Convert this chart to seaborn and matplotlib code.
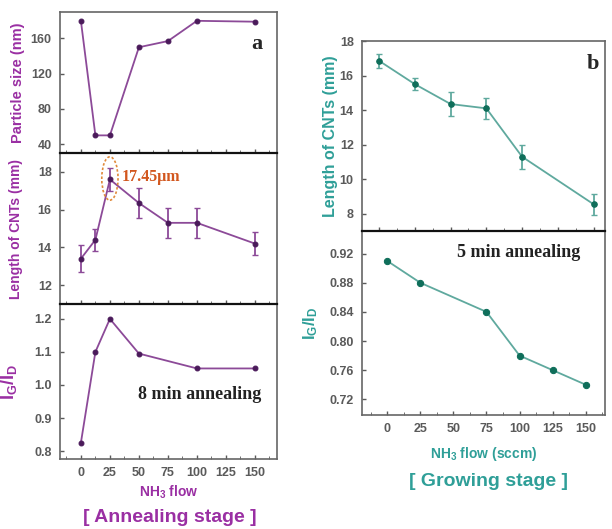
import numpy as np
import pandas as pd
import matplotlib
matplotlib.use("Agg")
import matplotlib.pyplot as plt
from matplotlib.patches import Ellipse
from matplotlib.ticker import MultipleLocator, FormatStrFormatter
import seaborn as sns

# --- data ---
# (a) annealing stage
flow_a_size = [0, 12.5, 25, 50, 75, 100, 150]
size_nm = [180, 50, 50, 150, 157, 180, 179]

flow_a_len = [0, 12.5, 25, 50, 75, 100, 150]
len_a = [13.4, 14.4, 17.6, 16.35, 15.3, 15.3, 14.2]
len_a_err = [0.7, 0.6, 0.6, 0.8, 0.8, 0.8, 0.6]

flow_a_ratio = [0, 12.5, 25, 50, 100, 150]
ratio_a = [0.825, 1.10, 1.20, 1.095, 1.05, 1.05]

# (b) growing stage
flow_b_len = [0, 25, 50, 75, 100, 150]
len_b = [16.85, 15.5, 14.35, 14.1, 11.3, 8.55]
len_b_err = [0.4, 0.35, 0.7, 0.6, 0.7, 0.6]

flow_b_ratio = [0, 25, 75, 100, 125, 150]
ratio_b = [0.91, 0.88, 0.84, 0.78, 0.76, 0.74]

flow_ticks = [0, 25, 50, 75, 100, 125, 150]

# colours
PURPLE = "#9a2fa3"
PURPLE_LINE = "#8c4a98"
PURPLE_MARK = "#4a1a5a"
TEAL = "#2f9f98"
TEAL_LINE = "#5fa99e"
TEAL_MARK = "#0f6e5a"
TICK_GREY = "#5a5a5a"
SERIF = ["Liberation Serif", "DejaVu Serif"]

sns.set_style("ticks")
plt.rcParams['font.family'] = ['Liberation Sans', 'DejaVu Sans']
plt.rcParams['mathtext.fontset'] = 'custom'
plt.rcParams['mathtext.rm'] = 'Liberation Sans:bold'
plt.rcParams['mathtext.it'] = 'Liberation Sans:bold'
plt.rcParams['mathtext.bf'] = 'Liberation Sans:bold'

W, H = 612, 529
fig = plt.figure(figsize=(W / 100, H / 100), dpi=100)


def add_ax(x0, y0, x1, y1):
    # pixel box -> figure fraction
    return fig.add_axes([x0 / W, 1 - y1 / H, (x1 - x0) / W, (y1 - y0) / H])


def style_ax(ax, show_x=False):
    for s in ax.spines.values():
        s.set_color("#666666")
        s.set_linewidth(1.2)
    ax.tick_params(axis="both", direction="in", length=3, width=1,
                   colors=TICK_GREY, labelsize=9, pad=6)
    ax.tick_params(axis="both", which="minor", direction="in", length=2, colors=TICK_GREY)
    for lbl in ax.get_yticklabels() + ax.get_xticklabels():
        lbl.set_fontweight("bold")
    if not show_x:
        ax.tick_params(axis="x", labelbottom=False)
    ax.set_xlabel("")


def draw_series(ax, x, y, line_c, mark_c, err=None, ms=4):
    df = pd.DataFrame({"flow": x, "val": y})
    if err is not None:
        ax.errorbar(x, y, yerr=err, fmt="none", ecolor=line_c, elinewidth=1.3,
                    capsize=2, capthick=1, zorder=2)
    sns.lineplot(data=df, x="flow", y="val", ax=ax, color=line_c, lw=1.3,
                 marker="o", markersize=ms, markerfacecolor=mark_c,
                 markeredgecolor=mark_c, zorder=3)


# ---------------- panel (a) ----------------
ax1 = add_ax(60, 12, 277, 153)
ax2 = add_ax(60, 153, 277, 304)
ax3 = add_ax(60, 304, 277, 459)

draw_series(ax1, flow_a_size, size_nm, PURPLE_LINE, PURPLE_MARK, ms=3.5)
ax1.set_ylim(30, 190)
ax1.set_yticks([40, 80, 120, 160])
ax1.set_ylabel("Particle size (nm)", color=PURPLE, fontsize=10.5, fontweight="bold")

draw_series(ax2, flow_a_len, len_a, PURPLE_LINE, PURPLE_MARK, err=len_a_err, ms=3.5)
ax2.set_ylim(11, 19)
ax2.set_yticks([12, 14, 16, 18])
ax2.set_ylabel("Length of CNTs (mm)", color=PURPLE, fontsize=10, fontweight="bold")
ax2.add_patch(Ellipse((25, 17.65), 14, 2.3, fill=False, edgecolor="#e08a3a",
                      linestyle=(0, (1.5, 1.2)), lw=1.2, zorder=4))
ax2.text(35, 17.75, "17.45μm", color="#d2571e", fontsize=11.5, fontweight="bold",
         family=SERIF, va="center", ha="left")

draw_series(ax3, flow_a_ratio, ratio_a, PURPLE_LINE, PURPLE_MARK, ms=3.5)
ax3.set_ylim(0.776, 1.245)
ax3.set_yticks([0.8, 0.9, 1.0, 1.1, 1.2])
ax3.set_ylabel("$\\mathbf{I_G/I_D}$", color=PURPLE, fontsize=13)
ax3.text(0.36, 0.413, "8 min annealing", transform=ax3.transAxes, fontsize=13,
         fontweight="bold", family=SERIF, color="#222222", va="center")

for ax in (ax1, ax2, ax3):
    ax.set_xlim(-18, 169)
    ax.set_xticks(flow_ticks)
    ax.xaxis.set_minor_locator(MultipleLocator(12.5))
    style_ax(ax, show_x=(ax is ax3))
ax1.text(0.88, 0.77, "a", transform=ax1.transAxes, fontsize=16, fontweight="bold",
         family=SERIF, va="center")
ax1.yaxis.set_label_coords(-0.16, 0.5)
ax2.yaxis.set_label_coords(-0.17, 0.5)
ax3.yaxis.set_label_coords(-0.19, 0.5)
ax3.set_xlabel("NH$_3$ flow", color=PURPLE, fontsize=10, fontweight="bold", labelpad=3)
for ax in (ax2, ax3):
    ax.spines["top"].set_color("#111111")
    ax.spines["top"].set_linewidth(1.6)

fig.text(170 / W, 1 - 517 / H, "[ Annealing stage ]", color=PURPLE, fontsize=14,
         fontweight="bold", ha="center", va="center")

# ---------------- panel (b) ----------------
bx1 = add_ax(362, 41, 605, 231)
bx2 = add_ax(362, 231, 605, 415)

draw_series(bx1, flow_b_len, len_b, TEAL_LINE, TEAL_MARK, err=len_b_err, ms=4)
bx1.set_xlim(-12, 158)
bx1.set_ylim(7, 17.95)
bx1.set_yticks([8, 10, 12, 14, 16, 18])
bx1.set_ylabel("Length of CNTs (mm)", color=TEAL, fontsize=11.5, fontweight="bold")
bx1.text(0.925, 0.88, "b", transform=bx1.transAxes, fontsize=16, fontweight="bold",
         family=SERIF, va="center")

draw_series(bx2, flow_b_ratio, ratio_b, TEAL_LINE, TEAL_MARK, ms=4.5)
bx2.set_xlim(-19, 164.5)
bx2.set_ylim(0.6985, 0.951)
bx2.set_yticks([0.72, 0.76, 0.80, 0.84, 0.88, 0.92])
bx2.yaxis.set_major_formatter(FormatStrFormatter("%.2f"))
bx2.set_ylabel("$\\mathbf{I_G/I_D}$", color=TEAL, fontsize=12)
bx2.text(0.39, 0.882, "5 min annealing", transform=bx2.transAxes, fontsize=13,
         fontweight="bold", family=SERIF, color="#222222", va="center")

for ax in (bx1, bx2):
    ax.set_xticks(flow_ticks)
    ax.xaxis.set_minor_locator(MultipleLocator(12.5))
    style_ax(ax, show_x=(ax is bx2))
bx1.yaxis.set_label_coords(-0.1, 0.5)
bx2.yaxis.set_label_coords(-0.173, 0.5)
bx2.set_xlabel("NH$_3$ flow (sccm)", color=TEAL, fontsize=10, fontweight="bold", labelpad=7)
bx2.spines["top"].set_color("#111111")
bx2.spines["top"].set_linewidth(1.6)

fig.text(488 / W, 1 - 482 / H, "[ Growing stage ]", color=TEAL, fontsize=14,
         fontweight="bold", ha="center", va="center")

fig.savefig("out.png", dpi=100)
